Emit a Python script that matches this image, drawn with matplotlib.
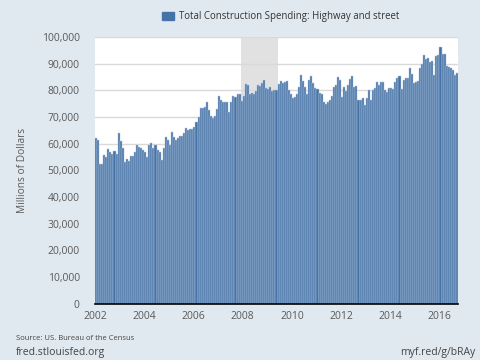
import matplotlib
matplotlib.use("Agg")
from matplotlib import pyplot as plt

# monthly values, Jan 2002 - Sep 2016 (millions of dollars)
start_year = 2002
values_2002_2004 = [62.1, 61.25, 52.5, 52.5, 55.75, 55, 58, 57.1, 56.25, 57.25, 56.1, 64,
                    61, 58.25, 53.1, 54.4, 53.5, 55.5, 55.25, 57, 59.5, 58.75, 58.25, 57.5,
                    57.1, 54.9, 59.5, 60.25, 58.5, 59.4, 57.5, 56.9, 54, 58.25, 62.6, 61.5]
values_2005_2007 = [59.5, 64.25, 62.4, 61.5, 62.1, 63, 63, 63.9, 65.75, 65.1, 65.5, 65.6,
                    66.25, 68, 70, 73.4, 73.5, 73.9, 75.75, 72.6, 70.4, 69.75, 70.5, 72.9,
                    78.1, 76.25, 75.6, 75.75, 75.6, 72.1, 75.75, 77.9, 77.5, 78.75, 78.6, 76]
values_2008_2010 = [77.75, 82.4, 82, 78.5, 79.1, 78.75, 79.6, 81.9, 81.6, 82.75, 83.75, 80.75,
                    80.4, 81.4, 79.9, 80.1, 80.1, 82.5, 83.6, 82.9, 83.25, 83.5, 80.1, 78.75,
                    77.25, 77.5, 78.5, 81.25, 85.9, 83.5, 81.4, 78.5, 83.75, 85.4, 82.9, 80.75]
values_2011_2013 = [80.5, 79.1, 78.5, 75.75, 74.75, 75.75, 76.6, 77.9, 81.4, 81.9, 85, 83.75,
                    77.6, 81.4, 79.9, 81.9, 84.4, 85.4, 81.4, 81.6, 76.6, 76.6, 77.25, 74.5,
                    77.25, 80, 76.25, 80.1, 80.9, 83.25, 82.1, 83.25, 83.25, 80, 79.4, 81]
values_2014_2016 = [81, 80.4, 83.25, 84.75, 85.4, 80.6, 83.9, 84.75, 84.75, 88.5, 86, 82.9,
                    83.25, 83.5, 88.25, 90, 93.4, 91.9, 92.25, 90.6, 91, 85.6, 92.9, 93.25,
                    96.4, 93.75, 93.75, 89.1, 88.75, 88.25, 87.6, 85.6, 86.6]

values = values_2002_2004 + values_2005_2007 + values_2008_2010 + values_2011_2013 + values_2014_2016
values = [v * 1000 for v in values]
dates = [start_year + i / 12 for i in range(len(values))]

recession = (2007 + 11 / 12, 2009 + 5 / 12)
year_ticks = list(range(2002, 2017, 2))
y_ticks = list(range(0, 100001, 10000))

bg = "#e1e9f0"
bar_colour = "#4572a7"
grey_text = "#595959"

plt.rcParams["font.family"] = ["Open Sans", "DejaVu Sans"]

fig = plt.figure(figsize=(4.8, 3.6), dpi=100, facecolor=bg)
ax = fig.add_axes([0.198, 0.156, 0.756, 0.741])
ax.set_facecolor("white")

ax.axvspan(recession[0], recession[1], color="#e1e1e1", zorder=0, lw=0)
ax.bar(dates, values, width=1 / 12, align="edge", color=bar_colour,
       edgecolor="#b7c8dd", linewidth=0.35, zorder=2)

ax.set_xlim(start_year, start_year + len(values) / 12)
ax.set_ylim(0, 100000)
ax.set_yticks(y_ticks)
ax.set_yticklabels([f"{t:,}" for t in y_ticks])
ax.set_xticks(year_ticks)
ax.set_xticklabels([str(y) for y in year_ticks])
ax.yaxis.grid(True, color="#d9d9d9", lw=1, zorder=1)
ax.set_axisbelow(True)

for side in ["top", "right", "left"]:
    ax.spines[side].set_visible(False)
ax.spines["bottom"].set_color("black")
ax.spines["bottom"].set_linewidth(1.2)
ax.spines["bottom"].set_zorder(3)

ax.tick_params(axis="y", length=0, pad=11, labelsize=7.5, labelcolor=grey_text)
ax.tick_params(axis="x", length=0, pad=5, labelsize=7.5, labelcolor=grey_text)

ax.set_ylabel("Millions of Dollars", fontsize=7.3, color=grey_text, labelpad=10)

# legend box at the top
fig.patches.append(plt.Rectangle((162 / 480, 1 - 20 / 360), 12 / 480, 8 / 360,
                                 transform=fig.transFigure, color=bar_colour))
fig.text(179 / 480, 1 - 16 / 360, "Total Construction Spending: Highway and street",
         fontsize=6.9, color="#333333", va="center", ha="left")

fig.text(16 / 480, 1 - 338 / 360, "Source: US. Bureau of the Census",
         fontsize=5.5, color="#444444", va="center")
fig.text(16 / 480, 1 - 352 / 360, "fred.stlouisfed.org",
         fontsize=7.5, color="#444444", va="center")
fig.text(475 / 480, 1 - 352 / 360, "myf.red/g/bRAy",
         fontsize=7.5, color="#444444", va="center", ha="right")

plt.savefig("out.png", dpi=100, facecolor=bg)
